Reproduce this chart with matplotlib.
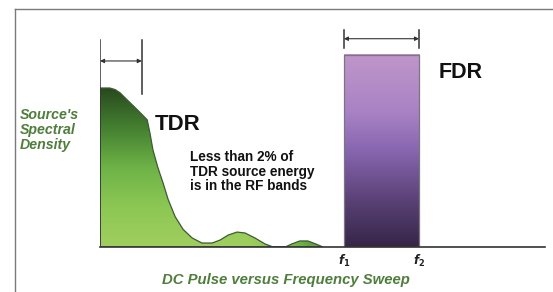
import numpy as np
import matplotlib
matplotlib.use("Agg")
import matplotlib.pyplot as plt
from matplotlib.colors import LinearSegmentedColormap
from matplotlib.patches import Polygon, Rectangle

# ---- data (frequency in arbitrary units, spectral density normalised) ----
tdr_freq = [0, 1.1, 2.2, 3.4, 4.5, 6.3, 8.5, 10.6, 11.2, 11.9, 13.0, 14.2, 15.3,
            16.9, 18.7, 20.7, 22.9, 25.2, 27.0, 28.8, 30.8, 32.6, 34.8, 37.1,
            38.9, 41.6, 43.1, 44.9, 46.7, 48.5, 50.1]
tdr_density = [1.0, 1.0, 1.0, 0.99, 0.97, 0.92, 0.86, 0.80, 0.72, 0.61, 0.50, 0.40,
               0.30, 0.19, 0.11, 0.057, 0.025, 0.025, 0.044, 0.075, 0.094, 0.088,
               0.057, 0.019, 0.0, 0.0, 0.019, 0.038, 0.038, 0.019, 0.0]
fdr_f1 = 54.8
fdr_f2 = 71.7
fdr_level = 1.21
freq_max = 100
tdr_pulse_width = 9.4

W, H = 553, 292
fig = plt.figure(figsize=(W / 100, H / 100), dpi=100)
fig.patch.set_facecolor("white")

# frame lines (figure coordinates)
fig.add_artist(plt.Line2D([15 / W, 15 / W], [0, 1 - 9 / H], color="#7a7a7a", lw=1.0))
fig.add_artist(plt.Line2D([15 / W, 1], [1 - 9 / H, 1 - 9 / H], color="#7a7a7a", lw=1.0))

ax = fig.add_axes([100 / W, (H - 247) / H, 445 / W, 227 / H])
ax.set_xlim(0, freq_max)
ax.set_ylim(0, 227 / 159)
ax.axis("off")

# --- TDR green gradient area ---
xs = np.array(tdr_freq)
ys = np.array(tdr_density)
verts = list(zip(xs, ys)) + [(xs[-1], 0), (0, 0)]
poly = Polygon(verts, closed=True, facecolor="none", edgecolor="#3d5a32", lw=0.9, zorder=3)
ax.add_patch(poly)
green = LinearSegmentedColormap.from_list(
    "g", [(0.0, (0.63, 0.81, 0.37)), (0.25, (0.55, 0.78, 0.33)), (0.5, (0.43, 0.70, 0.28)),
          (0.75, (0.27, 0.50, 0.19)), (1.0, (0.16, 0.29, 0.12))])
ny, nx = 200, 200
gy = np.linspace(0, 1, ny)[:, None]
gx = np.linspace(0, 51, nx)[None, :]
t = gy + np.clip((gx - 33) / 14, 0, 1) * 0.55
t = np.clip(t, 0, 1)
img = green(t)
im = ax.imshow(img, extent=[0, 51, 0, 1], origin="lower", aspect="auto", zorder=2,
               interpolation="bilinear")
im.set_clip_path(poly)

# --- FDR purple gradient bar ---
purple = LinearSegmentedColormap.from_list(
    "p", [(0.0, (0.21, 0.15, 0.28)), (0.25, (0.36, 0.26, 0.47)), (0.5, (0.53, 0.40, 0.69)),
          (0.7, (0.66, 0.51, 0.77)), (1.0, (0.75, 0.59, 0.79))])
pimg = purple(np.linspace(0, 1, 200))[:, None, :]
ax.imshow(pimg, extent=[fdr_f1, fdr_f2, 0, fdr_level], origin="lower", aspect="auto",
          zorder=2, interpolation="bilinear")
ax.add_patch(Rectangle((fdr_f1, 0), fdr_f2 - fdr_f1, fdr_level, facecolor="none",
                       edgecolor="#7d7480", lw=0.9, zorder=3))

# baseline
ax.plot([0, freq_max], [0, 0], color="#333333", lw=1.2, zorder=4, clip_on=False)

# TDR pulse-width marker
lc = "#333333"
ax.plot([0, 0], [0, 1.30], color=lc, lw=1.1, zorder=4)
ax.plot([tdr_pulse_width, tdr_pulse_width], [0.96, 1.30], color=lc, lw=1.1, zorder=4)
ax.annotate("", xy=(tdr_pulse_width, 1.17), xytext=(0, 1.17),
            arrowprops=dict(arrowstyle="<|-|>", color=lc, lw=0.8,
                            mutation_scale=6, shrinkA=0, shrinkB=0))

# FDR band marker
ax.plot([fdr_f1, fdr_f1], [1.25, 1.365], color=lc, lw=1.1, zorder=4)
ax.plot([fdr_f2, fdr_f2], [1.25, 1.365], color=lc, lw=1.1, zorder=4)
ax.annotate("", xy=(fdr_f2, 1.31), xytext=(fdr_f1, 1.31),
            arrowprops=dict(arrowstyle="<|-|>", color=lc, lw=0.8,
                            mutation_scale=6, shrinkA=0, shrinkB=0))

# labels
ff = "Liberation Sans"
ax.text(12.3, (247 - 124) / 159, "TDR", fontsize=16, fontweight="bold",
        family=ff, color="#111111", va="center", ha="left")
ax.text(76.2, (247 - 72) / 159, "FDR", fontsize=15.5, fontweight="bold",
        family=ff, color="#111111", va="center", ha="left")
ax.text(20.2, (247 - 150) / 159,
        "Less than 2% of\nTDR source energy\nis in the RF bands",
        fontsize=9.8, fontweight="bold", family=ff, color="#111111",
        va="top", ha="left", linespacing=1.05)
ax.text(fdr_f1, -0.085, r"$\boldsymbol{f}_\mathbf{1}$", fontsize=8.5,
        ha="center", va="center", color="#222222")
ax.text(fdr_f2, -0.085, r"$\boldsymbol{f}_\mathbf{2}$", fontsize=8.5,
        ha="center", va="center", color="#222222")

gcol = "#4e7d3c"
fig.text(20 / W, 1 - 130 / H, "Source's\nSpectral\nDensity", fontsize=10.2,
         fontweight="bold", style="italic", family=ff, color=gcol,
         ha="left", va="center", linespacing=1.1)
fig.text(286 / W, 1 - 280 / H, "DC Pulse versus Frequency Sweep", fontsize=10.7,
         fontweight="bold", style="italic", family=ff, color=gcol,
         ha="center", va="center")

fig.savefig("out.png", dpi=100)
